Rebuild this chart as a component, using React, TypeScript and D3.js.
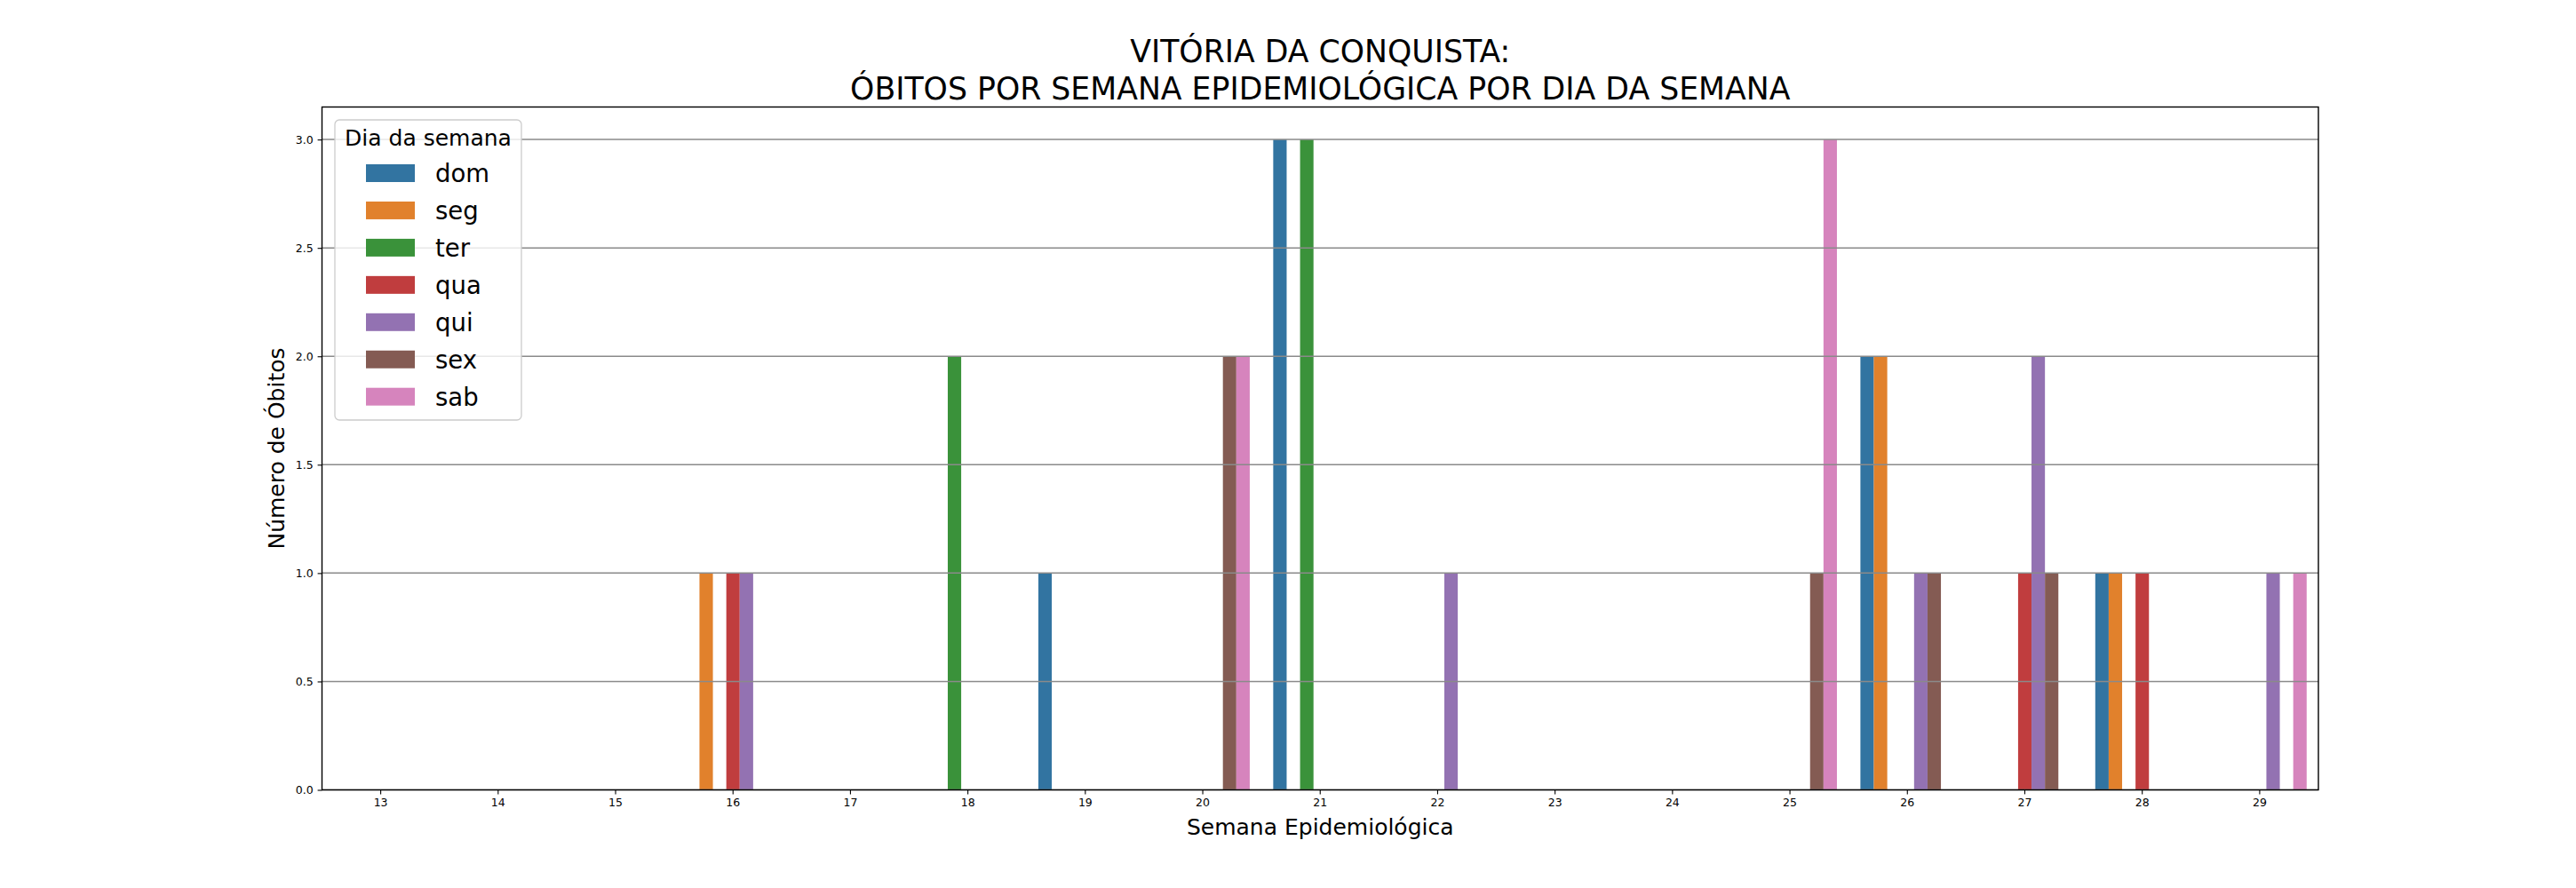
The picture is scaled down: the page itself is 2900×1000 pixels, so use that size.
import React, { useRef, useEffect } from 'react';
import * as d3 from 'd3';

const weeks = ['13', '14', '15', '16', '17', '18', '19', '20', '21', '22', '23', '24', '25', '26', '27', '28', '29'];
const days = ['dom', 'seg', 'ter', 'qua', 'qui', 'sex', 'sab'];
const dayColors = ['#3274a1', '#e1812c', '#3a923a', '#c03d3e', '#9372b2', '#845b53', '#d684bd'];

// deaths per week, one array per weekday
const dom = [0, 0, 0, 0, 0, 0, 1, 0, 3, 0, 0, 0, 0, 2, 0, 1, 0];
const seg = [0, 0, 0, 1, 0, 0, 0, 0, 0, 0, 0, 0, 0, 2, 0, 1, 0];
const ter = [0, 0, 0, 0, 0, 2, 0, 0, 3, 0, 0, 0, 0, 0, 0, 0, 0];
const qua = [0, 0, 0, 1, 0, 0, 0, 0, 0, 0, 0, 0, 0, 0, 1, 1, 0];
const qui = [0, 0, 0, 1, 0, 0, 0, 0, 0, 1, 0, 0, 0, 1, 2, 0, 1];
const sex = [0, 0, 0, 0, 0, 0, 0, 2, 0, 0, 0, 0, 1, 1, 1, 0, 0];
const sab = [0, 0, 0, 0, 0, 0, 0, 2, 0, 0, 0, 0, 3, 0, 0, 0, 1];

const yTicks = [0, 0.5, 1, 1.5, 2, 2.5, 3];

const FONT = '"DejaVu Sans", sans-serif';

const App = () => {
  const ref = useRef<SVGSVGElement | null>(null);

  useEffect(() => {
    if (!ref.current) return;
    const svg = d3.select(ref.current);
    svg.selectAll('*').remove();

    const W = 2900, H = 1000;
    const margin = { top: 120.5, right: 290, bottom: 110.5, left: 362.5 };
    const x0 = margin.left, x1 = W - margin.right;
    const y0 = H - margin.bottom, y1 = margin.top;

    svg.attr('width', W).attr('height', H);
    svg.append('rect').attr('width', W).attr('height', H).attr('fill', '#fff');

    const series = [dom, seg, ter, qua, qui, sex, sab];
    const rows = weeks.flatMap((w, i) => days.map((d, j) => ({ week: w, day: d, value: series[j][i], color: dayColors[j] })));

    const x = d3.scaleBand().domain(weeks).range([x0, x1]).padding(0);
    const bw = x.bandwidth();
    const xDay = d3.scaleBand().domain(days).range([0.1 * bw, 0.9 * bw]).padding(0);
    const y = d3.scaleLinear().domain([0, 3.15]).range([y0, y1]);

    // bars
    svg.append('g')
      .selectAll('rect')
      .data(rows.filter(r => r.value > 0))
      .enter().append('rect')
      .attr('x', r => (x(r.week) as number) + (xDay(r.day) as number))
      .attr('width', xDay.bandwidth())
      .attr('y', r => y(r.value))
      .attr('height', r => y0 - y(r.value))
      .attr('fill', r => r.color);

    // horizontal grid, drawn over bars
    svg.append('g')
      .selectAll('line')
      .data(yTicks)
      .enter().append('line')
      .attr('x1', x0).attr('x2', x1)
      .attr('y1', d => y(d)).attr('y2', d => y(d))
      .attr('stroke', '#8a8a8a')
      .attr('stroke-width', 1.5);

    // x axis
    const xAxis = svg.append('g')
      .attr('transform', `translate(0,${y0})`)
      .call(d3.axisBottom(x).tickSize(4.9).tickPadding(4.9));
    xAxis.select('.domain').remove();
    xAxis.selectAll('line').attr('stroke', '#000').attr('stroke-width', 1.1);
    xAxis.selectAll('text').attr('font-family', FONT).attr('font-size', 12.5).attr('fill', '#000');

    // y axis
    const yAxis = svg.append('g')
      .attr('transform', `translate(${x0},0)`)
      .call(d3.axisLeft(y).tickValues(yTicks).tickFormat(d3.format('.1f')).tickSize(4.9).tickPadding(4.9));
    yAxis.select('.domain').remove();
    yAxis.selectAll('line').attr('stroke', '#000').attr('stroke-width', 1.1);
    yAxis.selectAll('text').attr('font-family', FONT).attr('font-size', 12.5).attr('fill', '#000');

    // spines
    svg.append('rect')
      .attr('x', x0).attr('y', y1)
      .attr('width', x1 - x0).attr('height', y0 - y1)
      .attr('fill', 'none').attr('stroke', '#000').attr('stroke-width', 1.4);

    // titles
    const cx = (x0 + x1) / 2;
    svg.append('text')
      .attr('x', cx).attr('y', 70)
      .attr('text-anchor', 'middle')
      .attr('font-family', FONT).attr('font-size', 34.7)
      .text('VITÓRIA DA CONQUISTA:');
    svg.append('text')
      .attr('x', cx).attr('y', 111.7)
      .attr('text-anchor', 'middle')
      .attr('font-family', FONT).attr('font-size', 34.7)
      .text('ÓBITOS POR SEMANA EPIDEMIOLÓGICA POR DIA DA SEMANA');

    svg.append('text')
      .attr('x', cx).attr('y', 940)
      .attr('text-anchor', 'middle')
      .attr('font-family', FONT).attr('font-size', 25)
      .text('Semana Epidemiológica');

    svg.append('text')
      .attr('transform', `translate(320,${(y0 + y1) / 2}) rotate(-90)`)
      .attr('text-anchor', 'middle')
      .attr('font-family', FONT).attr('font-size', 25)
      .text('Número de Óbitos');

    // legend
    const lg = svg.append('g');
    lg.append('rect')
      .attr('x', 377).attr('y', 135)
      .attr('width', 210).attr('height', 338)
      .attr('rx', 5).attr('ry', 5)
      .attr('fill', '#fff').attr('fill-opacity', 0.8)
      .attr('stroke', '#cccccc').attr('stroke-width', 1.3);
    lg.append('text')
      .attr('x', 482).attr('y', 164)
      .attr('text-anchor', 'middle')
      .attr('font-family', FONT).attr('font-size', 25)
      .text('Dia da semana');
    const item = lg.selectAll('g.item')
      .data(days)
      .enter().append('g')
      .attr('class', 'item')
      .attr('transform', (_d, i) => `translate(0,${195 + i * 41.95})`);
    item.append('rect')
      .attr('x', 412).attr('y', -10)
      .attr('width', 55).attr('height', 20)
      .attr('fill', (_d, i) => dayColors[i]);
    item.append('text')
      .attr('x', 490).attr('y', 10)
      .attr('font-family', FONT).attr('font-size', 27.5)
      .text(d => d);
  }, []);

  return <svg ref={ref} style={{ position: 'absolute', left: 0, top: 0 }} />;
};

export default App;
